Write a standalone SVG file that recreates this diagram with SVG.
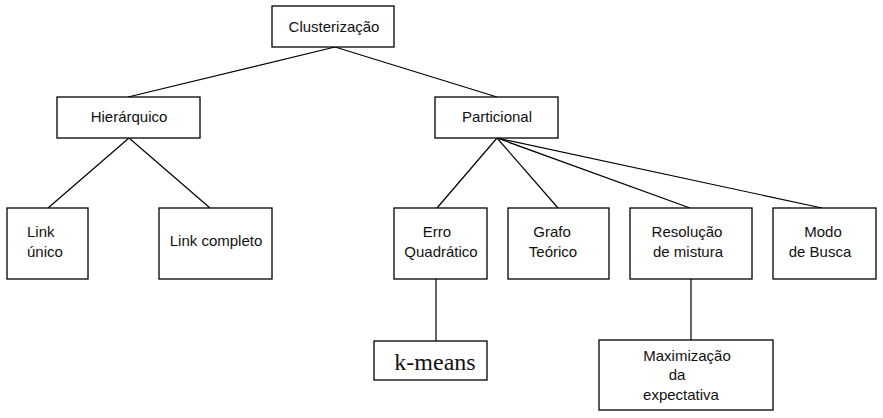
<svg xmlns="http://www.w3.org/2000/svg" width="883" height="418" viewBox="0 0 883 418">
<style>
.box{fill:#fff;stroke:#000;stroke-width:1.3}
.t{font-family:"Liberation Sans",Arial,sans-serif;font-size:15px;fill:#111;text-anchor:middle}
.l{text-anchor:start}
.s{font-family:"Liberation Serif","Times New Roman",serif;font-size:24px;fill:#111;text-anchor:middle}
.c{stroke:#000;stroke-width:1.2;fill:none}
</style>
<rect width="883" height="418" fill="#fff"/>
<g id="connectors">
<line class="c" x1="335" y1="47" x2="128" y2="97"/>
<line class="c" x1="335" y1="47" x2="497" y2="97"/>
<line class="c" x1="129" y1="138" x2="48" y2="208"/>
<line class="c" x1="129" y1="138" x2="210" y2="208"/>
<line class="c" x1="497" y1="138" x2="437" y2="208"/>
<line class="c" x1="497" y1="138" x2="558" y2="208"/>
<line class="c" x1="497" y1="138" x2="690" y2="208"/>
<line class="c" x1="497" y1="138" x2="822" y2="208"/>
<line class="c" x1="436" y1="279" x2="436" y2="341"/>
<line class="c" x1="691" y1="279" x2="691" y2="340"/>
</g>
<g id="clusterizacao"><rect class="box" x="272" y="6" width="122" height="41"/><text class="t" x="334" y="32">Clusterização</text></g>
<g id="hierarquico"><rect class="box" x="57" y="97" width="143" height="41"/><text class="t" x="129" y="122">Hierárquico</text></g>
<g id="particional"><rect class="box" x="435" y="97" width="123" height="41"/><text class="t" x="497" y="122">Particional</text></g>
<g id="link-unico"><rect class="box" x="7" y="208" width="81" height="71"/><text class="t l" x="27" y="237">Link</text><text class="t l" x="27" y="257">único</text></g>
<g id="link-completo"><rect class="box" x="159" y="208" width="113" height="71"/><text class="t" x="216" y="246">Link completo</text></g>
<g id="erro-quadratico"><rect class="box" x="394" y="208" width="93" height="71"/><text class="t" x="437" y="237">Erro</text><text class="t" x="441" y="257">Quadrático</text></g>
<g id="grafo-teorico"><rect class="box" x="508" y="208" width="101" height="71"/><text class="t" x="552" y="237">Grafo</text><text class="t" x="553" y="257">Teórico</text></g>
<g id="resolucao-mistura"><rect class="box" x="630" y="208" width="122" height="71"/><text class="t" x="687" y="237">Resolução</text><text class="t" x="688" y="257">de mistura</text></g>
<g id="modo-busca"><rect class="box" x="773" y="208" width="103" height="71"/><text class="t" x="823" y="237">Modo</text><text class="t" x="820" y="257">de Busca</text></g>
<g id="k-means"><rect class="box" x="374" y="341" width="113" height="39"/><text class="s" x="435" y="370">k-means</text></g>
<g id="maximizacao"><rect class="box" x="599" y="340" width="174" height="70"/><text class="t" x="687" y="361">Maximização</text><text class="t" x="677" y="380">da</text><text class="t" x="681" y="400">expectativa</text></g>
</svg>
